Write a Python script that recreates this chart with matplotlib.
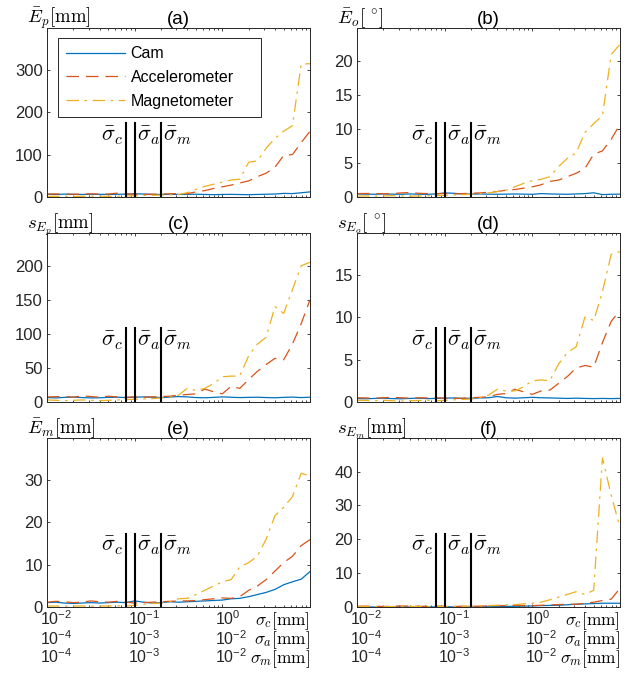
import matplotlib
matplotlib.use('Agg')
import matplotlib.pyplot as plt
from matplotlib.ticker import LogLocator, NullFormatter, NullLocator, FixedLocator

plt.rcParams.update({
    'font.family': ['Liberation Sans', 'DejaVu Sans'],
    'mathtext.fontset': 'custom',
    'mathtext.rm': 'Liberation Sans',
    'mathtext.it': 'Liberation Sans:italic',
    'mathtext.bf': 'Liberation Sans:bold',
    'lines.scale_dashes': False,
})

# ---------------- data ----------------
sigma_c = [0.0100, 0.0126, 0.0158, 0.0200, 0.0251, 0.0316, 0.0398, 0.0501, 0.0631, 0.0794,
           0.100, 0.126, 0.158, 0.200, 0.251, 0.316, 0.398, 0.501, 0.631, 0.794,
           1.00, 1.26, 1.58, 2.00, 2.51, 3.16, 3.98, 5.01, 6.31, 7.94, 10.0]

series_names = ['Cam', 'Accelerometer', 'Magnetometer']

# (a) mean position error [mm]
cam_a = [6.5, 6.0, 6.8, 6.2, 6.0, 6.5, 6.3, 6.0, 6.4, 6.8, 7.5, 7.0, 6.2, 6.0, 6.5, 6.0,
         6.3, 6.5, 6.0, 5.5, 6.0, 6.2, 5.8, 5.5, 6.0, 6.5, 7.0, 8.5, 8.0, 10.0, 12.0]
acc_a = [7.0, 7.2, 6.8, 6.5, 7.0, 7.5, 6.8, 7.0, 9.0, 7.5, 6.5, 6.0, 6.5, 7.0, 7.5, 8.0,
         8.0, 12.0, 15.0, 20.0, 24.0, 28.0, 33.0, 38.0, 48.0, 56.0, 70.0, 98.0, 100.0, 128.0, 155.0]
mag_a = [1.5, 1.8, 1.5, 1.2, 1.5, 2.0, 1.8, 1.5, 1.8, 2.5, 3.0, 3.5, 4.0, 4.5, 5.0, 6.0,
         10.0, 18.0, 25.0, 30.0, 35.0, 40.0, 42.0, 82.0, 85.0, 115.0, 138.0, 155.0, 168.0, 313.0, 314.0]

# (b) mean orientation error [deg]
cam_b = [0.45, 0.42, 0.40, 0.45, 0.42, 0.40, 0.45, 0.42, 0.40, 0.45, 0.60, 0.55, 0.45, 0.42, 0.45, 0.42,
         0.40, 0.42, 0.45, 0.42, 0.40, 0.50, 0.45, 0.42, 0.40, 0.45, 0.50, 0.62, 0.35, 0.40, 0.42]
acc_b = [0.50, 0.52, 0.50, 0.48, 0.50, 0.60, 0.65, 0.55, 0.50, 0.50, 0.50, 0.45, 0.50, 0.55, 0.60, 0.70,
         0.80, 1.00, 1.10, 1.30, 1.50, 1.80, 2.30, 2.50, 3.00, 3.50, 4.20, 6.30, 6.80, 8.50, 10.7]
mag_b = [0.15, 0.15, 0.12, 0.15, 0.20, 0.15, 0.12, 0.15, 0.20, 0.20, 0.25, 0.30, 0.35, 0.40, 0.50, 0.60,
         0.80, 1.00, 1.50, 2.00, 2.40, 2.60, 3.00, 4.50, 5.70, 6.50, 9.50, 10.8, 12.0, 21.0, 22.5]

# (c) std of position error [mm]
cam_c = [6.5, 6.0, 6.8, 7.2, 6.5, 6.0, 6.2, 6.8, 7.0, 6.5, 7.0, 7.5, 7.0, 6.5, 7.2, 8.0,
         7.5, 6.5, 6.2, 6.8, 7.5, 7.0, 6.5, 6.8, 7.0, 6.5, 6.2, 6.8, 7.2, 6.5, 7.0]
acc_c = [7.5, 7.8, 8.0, 7.0, 9.0, 8.0, 7.0, 8.5, 7.5, 7.0, 7.5, 7.0, 7.5, 8.0, 8.5, 10.0,
         11.0, 12.0, 19.0, 15.0, 12.0, 23.0, 20.0, 33.0, 45.0, 55.0, 64.0, 62.0, 85.0, 115.0, 150.0]
mag_c = [3.0, 2.5, 2.0, 2.5, 3.0, 2.5, 2.0, 2.5, 3.0, 3.5, 4.0, 4.5, 5.0, 6.0, 7.0, 10.0,
         20.0, 17.0, 20.0, 27.0, 37.0, 38.0, 38.0, 68.0, 85.0, 95.0, 140.0, 130.0, 165.0, 200.0, 205.0]

# (d) std of orientation error [deg]
cam_d = [0.40, 0.38, 0.42, 0.45, 0.40, 0.38, 0.42, 0.45, 0.40, 0.42, 0.45, 0.48, 0.42, 0.45, 0.48, 0.50,
         0.65, 0.50, 0.45, 0.50, 0.55, 0.50, 0.48, 0.45, 0.42, 0.45, 0.42, 0.40, 0.42, 0.40, 0.42]
acc_d = [0.50, 0.48, 0.45, 0.50, 0.55, 0.50, 0.45, 0.50, 0.48, 0.50, 0.45, 0.42, 0.45, 0.50, 0.55, 0.60,
         0.90, 1.00, 1.50, 1.20, 0.90, 1.30, 1.40, 2.20, 3.00, 4.00, 4.30, 4.10, 7.00, 9.50, 10.8]
mag_d = [0.20, 0.18, 0.15, 0.20, 0.15, 0.12, 0.15, 0.18, 0.20, 0.15, 0.20, 0.25, 0.30, 0.35, 0.50, 0.80,
         1.50, 1.30, 1.30, 1.80, 2.50, 2.60, 2.50, 4.50, 5.80, 6.50, 10.0, 9.6, 13.0, 17.4, 17.7]

# (e) mean magnetometer error [mm]
cam_e = [1.1, 1.2, 1.0, 0.9, 1.0, 1.1, 1.0, 1.1, 1.2, 1.1, 1.5, 1.2, 1.0, 1.1, 1.3, 1.2,
         1.3, 1.4, 1.5, 1.6, 1.7, 2.0, 2.1, 2.5, 3.0, 3.5, 4.2, 5.3, 6.0, 6.6, 8.4]
acc_e = [1.2, 1.4, 1.3, 1.1, 1.2, 1.5, 1.3, 1.2, 1.4, 1.2, 1.0, 1.1, 1.2, 1.3, 1.4, 1.5,
         1.5, 1.6, 1.8, 2.0, 2.2, 2.1, 2.5, 4.0, 5.0, 6.5, 8.5, 10.5, 12.0, 14.5, 15.9]
mag_e = [0.3, 0.3, 0.25, 0.3, 0.3, 0.25, 0.3, 0.3, 0.35, 0.3, 0.5, 0.7, 0.9, 1.0, 1.3, 2.0,
         2.1, 3.0, 4.0, 5.0, 6.0, 6.5, 9.5, 10.5, 12.0, 16.0, 21.5, 23.5, 26.0, 31.5, 30.8]

# (f) std of magnetometer error [mm]
cam_f = [0.10, 0.10, 0.08, 0.10, 0.12, 0.10, 0.08, 0.10, 0.10, 0.12, 0.15, 0.12, 0.10, 0.12, 0.15, 0.15,
         0.20, 0.25, 0.30, 0.35, 0.40, 0.50, 0.55, 0.60, 0.75, 0.90, 1.00, 1.10, 1.20, 1.20, 1.20]
acc_f = [0.30, 0.35, 0.30, 0.25, 0.30, 0.40, 0.35, 0.30, 0.30, 0.35, 0.30, 0.25, 0.30, 0.30, 0.35, 0.40,
         0.50, 0.50, 0.60, 0.50, 0.50, 0.60, 0.70, 0.80, 0.90, 0.90, 1.20, 1.50, 2.00, 2.40, 5.60]
mag_f = [0.20, 0.25, 0.20, 0.15, 0.20, 0.25, 0.30, 0.20, 0.25, 0.30, 0.20, 0.25, 0.30, 0.35, 0.40, 0.50,
         0.60, 0.70, 0.80, 1.00, 1.20, 1.50, 2.20, 3.00, 3.80, 4.60, 3.80, 5.00, 44.0, 33.0, 23.5]

# mean noise levels (on sigma_c axis)
sigma_bar = [0.0794, 0.100, 0.200]
sigma_bar_labels = [r'$\bar{\sigma}_c$', r'$\bar{\sigma}_a$', r'$\bar{\sigma}_m$']

panel_titles = ['(a)', '(b)', '(c)', '(d)', '(e)', '(f)']
panel_ylabels = [r'$\bar{E}_p[\mathrm{mm}]$', r'$\bar{E}_o[\ ^{\circ}]$',
                 r'$s_{E_p}[\mathrm{mm}]$', r'$s_{E_o}[\ ^{\circ}]$',
                 r'$\bar{E}_m[\mathrm{mm}]$', r'$s_{E_m}[\mathrm{mm}]$']
panel_ylim = [398, 24.9, 248, 19.9, 39.7, 49.8]
panel_yticks = [[0, 100, 200, 300], [0, 5, 10, 15, 20], [0, 50, 100, 150, 200],
                [0, 5, 10, 15], [0, 10, 20, 30], [0, 10, 20, 30, 40]]
panel_data = [(cam_a, acc_a, mag_a), (cam_b, acc_b, mag_b), (cam_c, acc_c, mag_c),
              (cam_d, acc_d, mag_d), (cam_e, acc_e, mag_e), (cam_f, acc_f, mag_f)]

xtick_pos = [0.01, 0.1, 1.0]
xtick_row1 = [r'$\mathregular{10^{-2}}$', r'$\mathregular{10^{-1}}$', r'$\mathregular{10^{0}}$']
xtick_row2 = [r'$\mathregular{10^{-4}}$', r'$\mathregular{10^{-3}}$', r'$\mathregular{10^{-2}}$']
xtick_row3 = [r'$\mathregular{10^{-4}}$', r'$\mathregular{10^{-3}}$', r'$\mathregular{10^{-2}}$']
xunit_rows = [r'$\sigma_c[\mathrm{mm}]$', r'$\sigma_a[\mathrm{mm}]$', r'$\sigma_m[\mathrm{mm}]$']

# ---------------- style ----------------
colors = ['#0072BD', '#D95319', '#EDB120']
styles = ['-', (0, (9, 5)), (0, (9, 4, 1.8, 4))]
axc = '#262626'

W, H = 631, 673
fig = plt.figure(figsize=(W / 100, H / 100), dpi=100)
col_left = [47, 357]
row_bottom = [197, 402, 607.3]
aw, ah = 263, 169

axes = []
for k in range(6):
    r, c = divmod(k, 2)
    ax = fig.add_axes([col_left[c] / W, 1 - row_bottom[r] / H, aw / W, ah / H])
    axes.append(ax)
    for s in range(3):
        ax.plot(sigma_c, panel_data[k][s], color=colors[s], linestyle=styles[s],
                linewidth=0.9, label=series_names[s])
    ax.set_xscale('log')
    ax.set_xlim(0.01, 10)
    ax.set_ylim(0, panel_ylim[k])
    ax.yaxis.set_major_locator(FixedLocator(panel_yticks[k]))
    ax.yaxis.set_minor_locator(NullLocator())
    ax.xaxis.set_major_locator(LogLocator(base=10, numticks=10))
    ax.xaxis.set_minor_locator(LogLocator(base=10, subs=[2, 3, 4, 5, 6, 7, 8, 9], numticks=10))
    ax.xaxis.set_major_formatter(NullFormatter())
    ax.xaxis.set_minor_formatter(NullFormatter())
    ax.tick_params(which='both', direction='in', top=True, right=True, color=axc,
                   labelcolor=axc, labelsize=12, width=0.6)
    ax.tick_params(which='major', length=2.3, pad=3)
    ax.tick_params(which='minor', length=1.5)
    for sp in ax.spines.values():
        sp.set_color(axc)
        sp.set_linewidth(0.7)

    # vertical noise-level lines
    frac = 0.435
    for j, sb in enumerate(sigma_bar):
        ax.axvline(sb, ymin=0, ymax=frac, color='black', linewidth=1.5)
    xt = ax.get_xaxis_transform()
    ax.annotate(sigma_bar_labels[0], xy=(sigma_bar[0], frac), xycoords=xt,
                xytext=(-1.5, -0.5), textcoords='offset points', ha='right', va='top',
                fontsize=16, math_fontfamily='cm')
    for j in (1, 2):
        ax.annotate(sigma_bar_labels[j], xy=(sigma_bar[j], frac), xycoords=xt,
                    xytext=(1.5, -0.5), textcoords='offset points', ha='left', va='top',
                    fontsize=16, math_fontfamily='cm')

    ax.set_title(panel_titles[k], fontsize=13.5, pad=3)
    ax.annotate(panel_ylabels[k], xy=(0, 1), xycoords='axes fraction',
                xytext=(-14.5, 3.5), textcoords='offset points', ha='left', va='baseline',
                fontsize=13.5, math_fontfamily='cm')

    if r == 2:
        rows = [xtick_row1, xtick_row2, xtick_row3]
        base_off = [-13.0, -26.8, -40.0]
        for ri in range(3):
            for xi, xp in enumerate(xtick_pos):
                ax.annotate(rows[ri][xi], xy=(xp, 0), xycoords=xt,
                            xytext=(-5, base_off[ri]), textcoords='offset points',
                            ha='left', va='baseline', fontsize=11.5, color=axc)
            ax.annotate(xunit_rows[ri], xy=(1, 0), xycoords='axes fraction',
                        xytext=(0, base_off[ri]), textcoords='offset points',
                        ha='right', va='baseline', fontsize=12.5, math_fontfamily='cm')

leg = axes[0].legend(loc='upper left', bbox_to_anchor=(0.042, 0.464, 0.772, 0.476),
                     mode='expand', borderaxespad=0, fontsize=11.5, handlelength=3.7,
                     handletextpad=0.35, labelspacing=0.55, borderpad=0.5,
                     fancybox=False, framealpha=1, edgecolor=axc)
leg.get_frame().set_linewidth(0.7)

fig.savefig('out.png', dpi=100)
